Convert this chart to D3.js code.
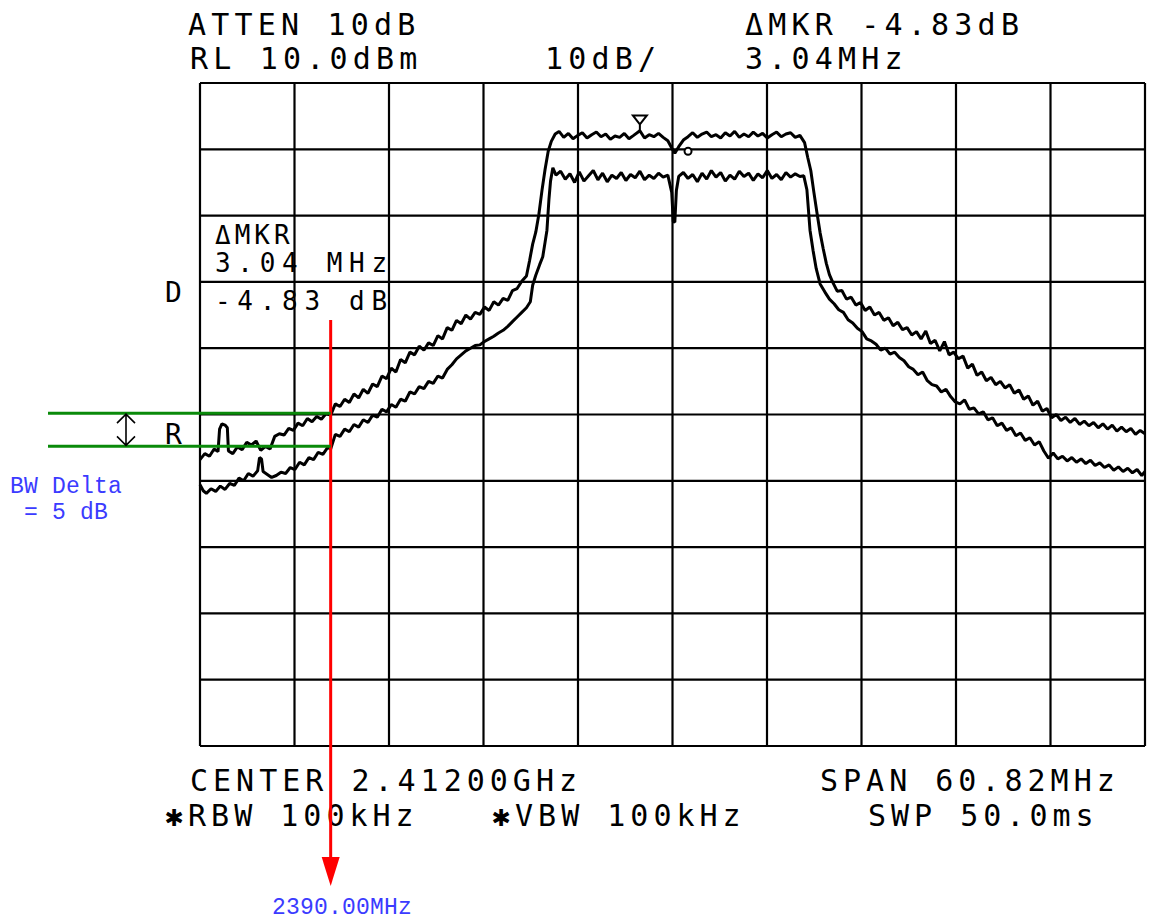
<!DOCTYPE html>
<html><head><meta charset="utf-8">
<script src="https://cdn.jsdelivr.net/npm/d3@7"></script>
<style>
body{margin:0;background:#fff;}
svg{display:block;}
.hp{font-family:"DejaVu Sans Mono",monospace;fill:#000;}
.note{font-family:"Liberation Mono",monospace;fill:#3b3bff;}
</style></head>
<body>
<svg id="c" width="1150" height="924"></svg>
<script>
// ---- instrument settings ----
const centerMHz = 2412.0;
const spanMHz = 60.82;
const refLevel = 10;      // dBm (top of screen)
const dbPerDiv = 10;
const divisions = 10;

// ---- header / footer labels ----
const headerLeft = ["ATTEN 10dB", "RL 10.0dBm"];
const headerMid = ["10dB/"];
const headerRight = ["ΔMKR -4.83dB", "3.04MHz"];
const footerRow1 = ["CENTER 2.41200GHz", "SPAN 60.82MHz"];
const footerRow2 = ["✱RBW 100kHz", "✱VBW 100kHz", "SWP 50.0ms"];
const mkrText = ["ΔMKR", "3.04 MHz", "-4.83 dB"];
const sideLabels = ["D", "R"];
const noteText = ["BW Delta", "= 5 dB"];
const edgeLabel = ["2390.00MHz"];

// ---- markers ----
const bandEdgeMHz = 2390.0;
const levelLines = [-39.8, -44.8];
const mkrPoint = [2409.9, 2.7];
const mkrRefPoint = [2413.0, -0.3];

// ---- trace A (upper, max hold) [MHz, dBm] ----
const traceA = [[2381.59,-46.8],[2381.9,-45.9],[2382.2,-46.3],[2382.5,-45.2],[2382.75,-45.6],[2382.85,-42.2],[2383.0,-41.4],[2383.2,-41.6],[2383.35,-42.0],[2383.42,-45.5],[2383.7,-45.9],[2384.0,-44.9],[2384.3,-45.3],[2384.6,-44.2],[2384.9,-44.6],[2385.2,-44.0],[2385.5,-45.4],[2385.8,-44.8],[2386.1,-45.2],[2386.4,-43.3],[2386.7,-42.9],[2387.0,-43.1],[2387.3,-42.1],[2387.6,-42.4],[2387.9,-41.3],[2388.2,-41.7],[2388.5,-40.6],[2388.8,-41.1],[2389.1,-40.3],[2389.4,-40.7],[2389.7,-39.9],[2390.0,-40.1],[2390.3,-38.4],[2390.6,-38.8],[2390.9,-37.7],[2391.2,-38.2],[2391.5,-36.9],[2391.8,-37.5],[2392.1,-36.2],[2392.4,-36.8],[2392.7,-35.4],[2393.0,-35.8],[2393.3,-34.2],[2393.6,-34.6],[2393.9,-33.0],[2394.2,-33.6],[2394.5,-31.7],[2394.8,-32.2],[2395.1,-30.6],[2395.4,-31.0],[2395.7,-29.7],[2396.0,-30.3],[2396.3,-29.2],[2396.6,-29.6],[2396.9,-28.1],[2397.2,-28.6],[2397.5,-26.9],[2397.8,-27.3],[2398.1,-25.8],[2398.4,-26.3],[2398.7,-25.0],[2399.0,-25.6],[2399.3,-24.6],[2399.6,-24.9],[2399.9,-23.8],[2400.2,-24.3],[2400.5,-23.0],[2400.8,-23.5],[2401.1,-22.5],[2401.4,-22.8],[2401.7,-21.3],[2402.0,-21.0],[2402.3,-19.9],[2402.6,-19.1],[2402.8,-16.8],[2403.0,-14.3],[2403.2,-12.5],[2403.4,-9.8],[2403.6,-6.2],[2403.8,-3.0],[2404.0,-0.3],[2404.2,1.2],[2404.45,2.3],[2404.7,2.7],[2405.0,1.8],[2405.3,2.4],[2405.6,1.6],[2405.9,2.1],[2406.2,2.5],[2406.5,1.7],[2406.8,2.2],[2407.1,2.6],[2407.4,1.9],[2407.7,2.3],[2408.0,1.5],[2408.3,2.0],[2408.6,1.8],[2408.9,2.4],[2409.2,1.6],[2409.5,2.1],[2409.9,2.8],[2410.2,1.7],[2410.5,2.2],[2410.8,1.9],[2411.1,2.4],[2411.4,1.8],[2411.7,1.3],[2411.95,0.2],[2412.15,-0.6],[2412.4,0.4],[2412.7,1.4],[2413.0,1.9],[2413.3,2.5],[2413.6,1.8],[2413.9,2.3],[2414.2,2.6],[2414.5,1.9],[2414.8,2.2],[2415.1,1.7],[2415.4,2.5],[2415.7,2.0],[2416.0,2.7],[2416.3,1.8],[2416.6,2.3],[2416.9,1.9],[2417.2,2.6],[2417.5,2.0],[2417.8,2.4],[2418.1,1.7],[2418.4,2.2],[2418.7,2.6],[2419.0,1.9],[2419.3,2.3],[2419.6,2.5],[2419.9,1.8],[2420.2,2.1],[2420.5,1.0],[2420.7,-1.2],[2420.9,-3.2],[2421.1,-6.5],[2421.3,-9.6],[2421.5,-12.6],[2421.7,-15.0],[2421.9,-17.2],[2422.1,-18.9],[2422.3,-20.0],[2422.6,-21.4],[2422.9,-21.3],[2423.2,-22.6],[2423.5,-22.3],[2423.8,-23.5],[2424.1,-23.1],[2424.4,-24.3],[2424.7,-23.8],[2425.0,-25.0],[2425.3,-24.6],[2425.6,-25.8],[2425.9,-25.4],[2426.2,-26.6],[2426.5,-26.1],[2426.8,-27.2],[2427.1,-26.9],[2427.4,-28.0],[2427.7,-27.5],[2428.0,-28.6],[2428.3,-27.4],[2428.6,-29.3],[2428.9,-28.8],[2429.2,-30.4],[2429.5,-29.0],[2429.8,-31.0],[2430.1,-30.6],[2430.4,-31.6],[2430.7,-31.2],[2431.0,-33.0],[2431.3,-32.4],[2431.6,-34.1],[2431.9,-33.6],[2432.2,-34.9],[2432.5,-34.4],[2432.8,-35.5],[2433.1,-35.0],[2433.4,-36.0],[2433.7,-35.5],[2434.0,-36.8],[2434.3,-36.3],[2434.6,-37.7],[2434.9,-37.2],[2435.2,-38.6],[2435.5,-38.0],[2435.8,-39.5],[2436.1,-39.1],[2436.4,-40.5],[2436.7,-40.0],[2437.0,-40.9],[2437.3,-40.4],[2437.6,-41.2],[2437.9,-40.6],[2438.2,-41.5],[2438.5,-41.0],[2438.8,-41.7],[2439.1,-41.2],[2439.4,-42.0],[2439.7,-41.4],[2440.0,-42.2],[2440.3,-41.6],[2440.6,-42.5],[2440.9,-41.9],[2441.2,-42.6],[2441.5,-42.1],[2441.8,-43.0],[2442.1,-42.4],[2442.41,-42.9]];

// ---- trace B (lower) [MHz, dBm] ----
const traceB = [[2381.59,-50.6],[2381.8,-51.5],[2382.0,-51.9],[2382.3,-51.2],[2382.6,-51.6],[2382.9,-50.8],[2383.2,-51.3],[2383.5,-50.4],[2383.8,-50.7],[2384.1,-49.6],[2384.4,-50.0],[2384.7,-48.9],[2385.0,-49.3],[2385.3,-48.5],[2385.42,-46.5],[2385.55,-46.7],[2385.65,-48.6],[2385.9,-49.0],[2386.2,-49.5],[2386.5,-49.2],[2386.8,-48.7],[2387.1,-48.9],[2387.4,-48.0],[2387.7,-48.3],[2388.0,-47.2],[2388.3,-47.6],[2388.6,-46.5],[2388.9,-46.8],[2389.2,-45.7],[2389.5,-46.0],[2389.8,-45.0],[2390.0,-45.2],[2390.3,-43.0],[2390.6,-43.3],[2390.9,-42.2],[2391.2,-42.6],[2391.5,-41.5],[2391.8,-41.9],[2392.1,-40.8],[2392.4,-41.2],[2392.7,-40.1],[2393.0,-40.4],[2393.3,-39.2],[2393.6,-39.6],[2393.9,-38.5],[2394.2,-38.9],[2394.5,-37.7],[2394.8,-38.0],[2395.1,-36.6],[2395.4,-36.9],[2395.7,-35.8],[2396.0,-36.1],[2396.3,-35.0],[2396.6,-35.3],[2396.9,-34.2],[2397.2,-34.5],[2397.5,-33.2],[2397.8,-32.5],[2398.1,-31.6],[2398.4,-31.0],[2398.7,-30.4],[2399.0,-30.0],[2399.3,-29.6],[2399.6,-29.5],[2399.9,-29.0],[2400.2,-28.6],[2400.5,-28.2],[2400.8,-27.7],[2401.1,-27.3],[2401.4,-26.7],[2401.7,-26.0],[2402.0,-25.3],[2402.3,-24.6],[2402.6,-23.9],[2402.85,-23.0],[2403.0,-20.5],[2403.2,-19.0],[2403.45,-17.4],[2403.65,-16.2],[2403.8,-14.0],[2403.92,-12.2],[2404.05,-7.5],[2404.15,-4.8],[2404.3,-2.8],[2404.5,-3.9],[2404.8,-3.3],[2405.1,-4.5],[2405.4,-3.7],[2405.7,-5.0],[2406.0,-3.4],[2406.3,-4.8],[2406.6,-4.0],[2406.9,-3.2],[2407.2,-4.6],[2407.5,-3.6],[2407.8,-4.9],[2408.1,-3.9],[2408.4,-4.4],[2408.7,-3.5],[2409.0,-4.7],[2409.3,-3.8],[2409.6,-4.3],[2409.9,-3.3],[2410.2,-4.6],[2410.5,-3.9],[2410.8,-4.4],[2411.1,-3.6],[2411.4,-4.2],[2411.7,-3.9],[2411.95,-6.5],[2412.05,-10.9],[2412.15,-11.0],[2412.25,-6.2],[2412.4,-4.1],[2412.7,-3.5],[2413.0,-4.4],[2413.3,-3.8],[2413.6,-4.9],[2413.9,-3.6],[2414.2,-4.5],[2414.5,-3.2],[2414.8,-4.2],[2415.1,-3.5],[2415.4,-4.8],[2415.7,-3.9],[2416.0,-4.5],[2416.3,-3.3],[2416.6,-4.1],[2416.9,-3.6],[2417.2,-4.7],[2417.5,-3.7],[2417.8,-4.3],[2418.1,-3.2],[2418.4,-4.4],[2418.7,-3.8],[2419.0,-4.6],[2419.3,-3.5],[2419.6,-4.2],[2419.9,-3.7],[2420.2,-4.1],[2420.45,-4.0],[2420.65,-6.1],[2420.85,-12.2],[2421.05,-15.3],[2421.25,-18.0],[2421.5,-20.3],[2421.8,-21.5],[2422.1,-22.6],[2422.4,-23.3],[2422.7,-24.2],[2423.0,-24.6],[2423.3,-25.7],[2423.6,-26.2],[2423.9,-27.0],[2424.2,-27.5],[2424.5,-28.6],[2424.8,-28.9],[2425.1,-29.4],[2425.4,-30.3],[2425.7,-30.0],[2426.0,-30.9],[2426.3,-30.6],[2426.6,-31.4],[2426.9,-31.9],[2427.2,-32.8],[2427.5,-33.2],[2427.8,-34.0],[2428.1,-33.6],[2428.4,-34.9],[2428.7,-35.5],[2429.0,-35.7],[2429.3,-36.6],[2429.6,-36.2],[2429.9,-37.3],[2430.2,-38.1],[2430.5,-38.4],[2430.8,-37.8],[2431.1,-39.2],[2431.4,-39.0],[2431.7,-39.9],[2432.0,-39.6],[2432.3,-40.8],[2432.6,-40.5],[2432.9,-41.7],[2433.2,-41.3],[2433.5,-42.4],[2433.8,-42.0],[2434.1,-43.2],[2434.4,-42.8],[2434.7,-43.9],[2435.0,-43.5],[2435.3,-44.6],[2435.6,-44.1],[2435.9,-45.5],[2436.2,-46.6],[2436.5,-45.8],[2436.8,-46.7],[2437.1,-46.3],[2437.4,-47.0],[2437.7,-46.5],[2438.0,-47.2],[2438.3,-46.7],[2438.6,-47.4],[2438.9,-46.9],[2439.2,-47.7],[2439.5,-47.3],[2439.8,-48.0],[2440.1,-47.6],[2440.4,-48.4],[2440.7,-47.9],[2441.0,-48.6],[2441.3,-48.1],[2441.6,-48.8],[2441.9,-48.3],[2442.2,-49.2],[2442.41,-48.6]];

// ---- drawing ----
const svg = d3.select("#c");
const L = 200, R = 1145, T = 83, B = 746;
const fStart = centerMHz - spanMHz / 2, fStop = centerMHz + spanMHz / 2;
const x = d3.scaleLinear().domain([fStart, fStop]).range([L, R]);
const y = d3.scaleLinear().domain([refLevel - dbPerDiv * divisions, refLevel]).range([B, T]);

// grid
const g = svg.append("g");
const fTicks = d3.range(divisions + 1).map(i => fStart + i * spanMHz / divisions);
const dTicks = d3.range(divisions + 1).map(i => refLevel - i * dbPerDiv);
g.selectAll("line.v").data(fTicks).join("line")
  .attr("x1", d => x(d)).attr("x2", d => x(d)).attr("y1", T).attr("y2", B)
  .attr("stroke", "#000").attr("stroke-width", 2.2);
g.selectAll("line.h").data(dTicks).join("line")
  .attr("y1", d => y(d)).attr("y2", d => y(d)).attr("x1", L).attr("x2", R)
  .attr("stroke", "#000").attr("stroke-width", 2.2);

// traces
const line = d3.line().x(d => x(d[0])).y(d => y(d[1])).curve(d3.curveLinear);
[traceA, traceB].forEach(t => {
  svg.append("path").datum(t).attr("d", line)
    .attr("fill", "none").attr("stroke", "#000").attr("stroke-width", 3)
    .attr("stroke-linejoin", "bevel");
});

// marker (inverted triangle) on trace A
const mx = x(mkrPoint[0]), my = y(mkrPoint[1]);
svg.append("path")
  .attr("d", `M${mx-7},${my-16}L${mx+7},${my-16}L${mx},${my-7}Z M${mx},${my-7}L${mx},${my}`)
  .attr("fill", "#fff").attr("stroke", "#000").attr("stroke-width", 2);
svg.append("circle").attr("cx", x(mkrRefPoint[0])).attr("cy", y(mkrRefPoint[1])).attr("r", 3.5)
  .attr("fill", "#fff").attr("stroke", "#000").attr("stroke-width", 2);

// text helper
function txt(s, px, py, size, ls, cls) {
  svg.append("text").attr("class", cls || "hp").attr("x", px).attr("y", py)
    .attr("font-size", size).attr("letter-spacing", ls).text(s);
}
txt(headerLeft[0], 188, 35, 30, 5.2);
txt(headerLeft[1], 190, 69, 30, 5.2);
txt(headerMid[0], 545, 69, 30, 5.2);
txt(headerRight[0], 745, 35, 30, 5.2);
txt(headerRight[1], 745, 69, 30, 5.2);
txt(footerRow1[0], 190, 791, 30, 5.0);
txt(footerRow1[1], 820, 791, 30, 5.0);
txt(footerRow2[0], 165, 826, 30, 5.0);
txt(footerRow2[1], 492, 826, 30, 5.0);
txt(footerRow2[2], 868, 826, 30, 5.0);
txt(mkrText[0], 215, 244, 26, 4.0);
txt(mkrText[1], 215, 272, 26, 6.7);
txt(mkrText[2], 215, 310, 26, 6.7);
txt(sideLabels[0], 165, 302, 28, 0);
txt(sideLabels[1], 165, 444, 28, 0);

// band edge marker (red)
const ex = x(bandEdgeMHz);
svg.append("line").attr("x1", ex).attr("x2", ex).attr("y1", 320).attr("y2", 862)
  .attr("stroke", "#ff0000").attr("stroke-width", 3);
svg.append("path").attr("d", `M${ex-9},857L${ex+9},857L${ex},886Z`).attr("fill", "#ff0000");

// level lines (green)
levelLines.forEach(v => {
  svg.append("line").attr("x1", 48).attr("x2", ex).attr("y1", y(v)).attr("y2", y(v))
    .attr("stroke", "#0a8a0a").attr("stroke-width", 3);
});
// double arrow between level lines
const ay1 = y(levelLines[0]) + 1, ay2 = y(levelLines[1]) - 1, ax = 126;
svg.append("path")
  .attr("d", `M${ax},${ay1}L${ax},${ay2} M${ax-9},${ay1+9}L${ax},${ay1}L${ax+9},${ay1+9} M${ax-9},${ay2-9}L${ax},${ay2}L${ax+9},${ay2-9}`)
  .attr("fill", "none").attr("stroke", "#000").attr("stroke-width", 1.6);

// blue notes
txt(noteText[0], 10, 493, 23, 0.2, "note");
txt(noteText[1], 24, 519, 23, 0.2, "note");
txt(edgeLabel[0], 272, 914, 23, 0.2, "note");
</script>
</body></html>
